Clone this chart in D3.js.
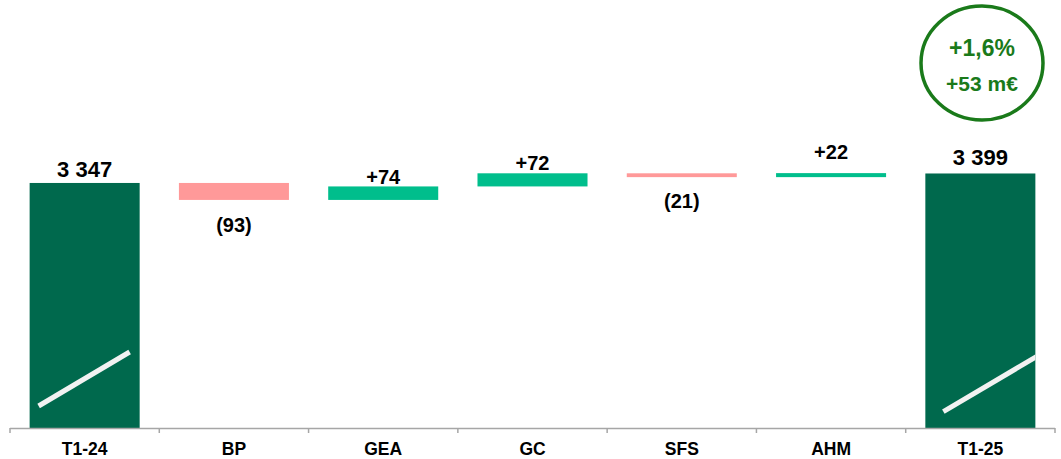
<!DOCTYPE html>
<html>
<head>
<meta charset="utf-8">
<script src="https://cdn.jsdelivr.net/npm/d3@7"></script>
<style>
  html, body { margin: 0; padding: 0; background: #fff; }
  svg { display: block; font-family: "Liberation Sans", Arial, sans-serif; }
</style>
</head>
<body>
<svg id="chart" width="1061" height="459"></svg>
<script>
// Bridge of quarterly revenue (m€), T1-24 to T1-25
const categories = ["T1-24", "BP", "GEA", "GC", "SFS", "AHM", "T1-25"];
const kinds = ["total", "delta", "delta", "delta", "delta", "delta", "total"];
const values = [3347, -93, 74, 72, -21, 22, 3399];
const badgeLines = ["+1,6%", "+53 m€"];
// value axis is cut: totals start from this floor (marked by the break stroke)
const yDomain = [2000, 3400];

// label baseline offsets (px) from the bar edge the label sits on
const labelOffsets = [-5.7, 32.5, -2, -3.3, 31, -13.7, -8];
// break stroke endpoints relative to the total bar (x from left, y above baseline)
const breakStrokes = { "T1-24": [9, 22, 100, 76], "T1-25": [18, 16.3, 118, 75.5] };

const colors = { total: "#00694D", up: "#00BE8C", down: "#FF9999" };

const svg = d3.select("#chart");
const axisY = 428;

const x = d3.scaleBand()
  .domain(categories)
  .range([10, 1055])
  .paddingInner(0.263)
  .paddingOuter(0.1315);

const y = d3.scaleLinear().domain(yDomain).range([axisY + 0.6, 173.3]);

// running waterfall segments
let running = 0;
const bars = categories.map((c, i) => {
  const v = values[i];
  if (kinds[i] === "total") {
    running = v;
    return { c, i, kind: "total", v, lo: yDomain[0], hi: v };
  }
  const start = running;
  running += v;
  return { c, i, kind: v >= 0 ? "up" : "down", v, lo: Math.min(start, running), hi: Math.max(start, running) };
});

const fmtTotal = d3.formatLocale({ decimal: ",", thousands: " ", grouping: [3], currency: ["", ""] }).format(",d");
const fmtLabel = d => d.kind === "total" ? fmtTotal(d.v) : (d.v >= 0 ? "+" + d.v : "(" + Math.abs(d.v) + ")");

const defs = svg.append("defs");

// bars
svg.append("g").selectAll("rect")
  .data(bars)
  .join("rect")
  .attr("x", d => x(d.c))
  .attr("width", x.bandwidth())
  .attr("y", d => y(d.hi))
  .attr("height", d => y(d.lo) - y(d.hi))
  .attr("fill", d => colors[d.kind]);

// axis break strokes on the total bars
bars.filter(d => d.kind === "total").forEach(d => {
  const id = "clip-" + d.i;
  defs.append("clipPath").attr("id", id).append("rect")
    .attr("x", x(d.c)).attr("y", y(d.hi))
    .attr("width", x.bandwidth()).attr("height", y(d.lo) - y(d.hi));
  const s = breakStrokes[d.c];
  svg.append("line")
    .attr("clip-path", `url(#${id})`)
    .attr("x1", x(d.c) + s[0]).attr("y1", axisY - s[1])
    .attr("x2", x(d.c) + s[2]).attr("y2", axisY - s[3])
    .attr("stroke", "#F2F2F2")
    .attr("stroke-width", 5);
});

// value labels
svg.append("g").selectAll("text")
  .data(bars)
  .join("text")
  .attr("x", d => x(d.c) + x.bandwidth() / 2)
  .attr("y", d => d.kind === "down" ? y(d.lo) + labelOffsets[d.i] : y(d.hi) + labelOffsets[d.i])
  .attr("text-anchor", "middle")
  .attr("font-weight", "bold")
  .attr("font-size", d => d.kind === "total" ? 22 : 20)
  .attr("fill", "#000")
  .text(fmtLabel);

// category axis
const axis = svg.append("g").attr("transform", `translate(0,${axisY})`);
axis.call(d3.axisBottom(x).tickSize(0).tickSizeOuter(0))
  .call(g => g.select(".domain").remove())
  .call(g => g.selectAll("text")
    .attr("y", 27.3).attr("dy", 0)
    .attr("font-family", "'Liberation Sans', Arial, sans-serif")
    .attr("font-size", 17.5)
    .attr("font-weight", "bold")
    .attr("fill", "#000"));

const edges = categories.map(c => x(c) - x.step() * x.paddingInner() / 2)
  .concat([x(categories[categories.length - 1]) + x.bandwidth() + x.step() * x.paddingInner() / 2]);

axis.append("line")
  .attr("x1", edges[0]).attr("x2", edges[edges.length - 1])
  .attr("y1", 0.5).attr("y2", 0.5)
  .attr("stroke", "#A6A6A6").attr("stroke-width", 1.5);

axis.selectAll(".edge")
  .data(edges)
  .join("line")
  .attr("class", "edge")
  .attr("x1", d => d).attr("x2", d => d)
  .attr("y1", 0).attr("y2", 5)
  .attr("stroke", "#A6A6A6").attr("stroke-width", 1.5);

// change badge
const badge = svg.append("g").attr("transform", "translate(982,63)");
badge.append("ellipse")
  .attr("rx", 61).attr("ry", 57)
  .attr("fill", "#fff")
  .attr("stroke", "#1A7A1A")
  .attr("stroke-width", 3.5);
badge.selectAll("text")
  .data(badgeLines)
  .join("text")
  .attr("text-anchor", "middle")
  .attr("y", (d, i) => i === 0 ? -7 : 27.7)
  .attr("font-weight", "bold")
  .attr("font-size", (d, i) => i === 0 ? 23 : 21)
  .attr("fill", "#1A7A1A")
  .text(d => d);
</script>
</body>
</html>
